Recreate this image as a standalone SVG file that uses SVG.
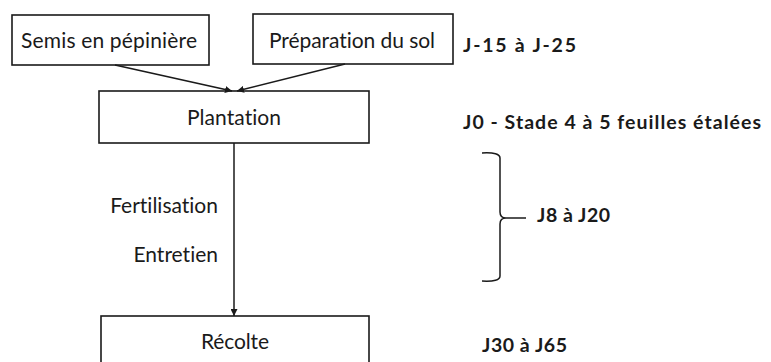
<svg xmlns="http://www.w3.org/2000/svg" width="771" height="362" viewBox="0 0 771 362">
<defs>
<style>
.box{fill:#fff;stroke:#1a1a1a;stroke-width:1.6}
.t{font-family:Lato,"Open Sans","Liberation Sans",sans-serif;font-size:21px;fill:#1a1a1a;font-variant-ligatures:none}
.b{font-family:Lato,"Open Sans","Liberation Sans",sans-serif;font-size:19.5px;font-weight:bold;fill:#1a1a1a;font-variant-ligatures:none}
.c{stroke:#1a1a1a;stroke-width:1.5;fill:none}
</style>
<marker id="ah" viewBox="0 0 10 10" refX="10" refY="5" markerWidth="7" markerHeight="7" markerUnits="userSpaceOnUse" orient="auto">
<path d="M0,0 L10,5 L0,10 z" fill="#1a1a1a"/>
</marker>
</defs>
<rect width="771" height="362" fill="#fff"/>
<g id="semis">
<rect class="box" x="12" y="15" width="197" height="50"/>
<text class="t" x="21" y="48" textLength="176">Semis en pépinière</text>
</g>
<g id="preparation">
<rect class="box" x="253" y="14" width="200" height="50"/>
<text class="t" x="269" y="48" textLength="166">Préparation du sol</text>
</g>
<g id="plantation">
<rect class="box" x="99" y="91" width="270" height="52"/>
<text class="t" x="187" y="125" textLength="94">Plantation</text>
</g>
<g id="recolte">
<rect class="box" x="101" y="316" width="268" height="60"/>
<text class="t" x="201" y="349" textLength="68">Récolte</text>
</g>
<g id="connectors">
<line class="c" x1="115" y1="65" x2="232" y2="91" marker-end="url(#ah)"/>
<line class="c" x1="345" y1="64" x2="237" y2="91" marker-end="url(#ah)"/>
<line class="c" x1="234" y1="143" x2="234" y2="316" marker-end="url(#ah)"/>
<path class="c" d="M482,153 Q500,152 500,158 L500,212 Q500,218 506,218 Q500,218 500,224 L500,276 Q500,282 482,281"/>
<line class="c" x1="506" y1="218" x2="526" y2="218"/>
</g>
<g id="labels">
<text class="t" x="218" y="213" text-anchor="end">Fertilisation</text>
<text class="t" x="218" y="262" text-anchor="end">Entretien</text>
<text class="b" x="463" y="52" textLength="113">J-15 à J-25</text>
<text class="b" x="463" y="129" textLength="298">J0 - Stade 4 à 5 feuilles étalées</text>
<text class="b" x="537" y="222" textLength="73">J8 à J20</text>
<text class="b" x="482" y="352" textLength="85">J30 à J65</text>
</g>
</svg>
